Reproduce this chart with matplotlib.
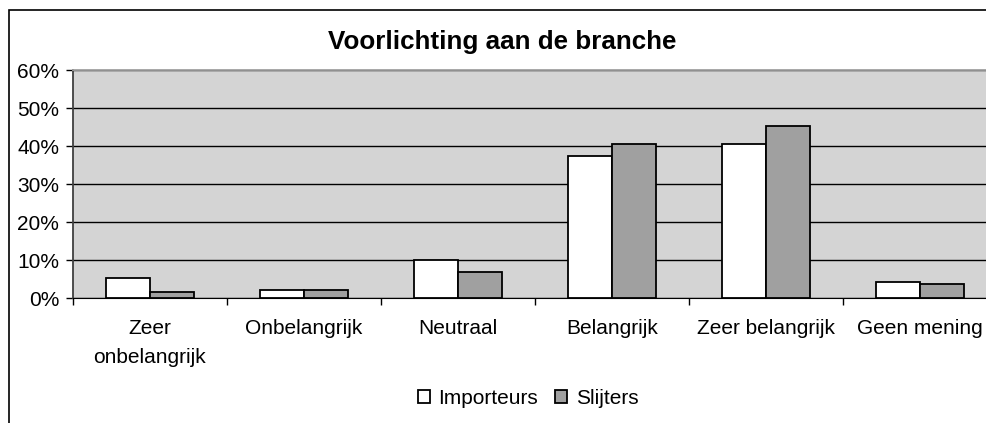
import matplotlib
matplotlib.use("Agg")
import matplotlib.pyplot as plt
from matplotlib.patches import Rectangle
from matplotlib.ticker import FixedLocator, PercentFormatter

plt.rcParams['font.family'] = ['Liberation Sans', 'DejaVu Sans']

categories = ["Zeer\nonbelangrijk", "Onbelangrijk", "Neutraal", "Belangrijk",
              "Zeer belangrijk", "Geen mening"]
importeurs = [5.3, 2.2, 10.0, 37.3, 40.4, 4.2]
slijters = [1.7, 2.2, 6.8, 40.4, 45.2, 3.6]

W, H = 987, 423
fig = plt.figure(figsize=(W / 100, H / 100), dpi=100)

# outer chart frame (clipped on right/bottom as in the original)
fig.patches.append(Rectangle((9 / W, -0.05), 1.1, 1 - 10 / H + 0.05,
                             transform=fig.transFigure, fill=False,
                             edgecolor='black', lw=1.2, clip_on=False))

ax = fig.add_axes([73 / W, (H - 298) / H, 924 / W, 228 / H])
ax.set_facecolor('#d4d4d4')

x = list(range(len(categories)))
bw = 0.286
ax.bar([i - bw / 2 for i in x], importeurs, bw, color='white',
       edgecolor='black', lw=1.3, label='Importeurs', zorder=3)
ax.bar([i + bw / 2 for i in x], slijters, bw, color='#a0a0a0',
       edgecolor='black', lw=1.3, label='Slijters', zorder=3)

ax.set_xlim(-0.5, len(categories) - 0.5)
ax.set_ylim(0, 60)
ax.set_yticks(range(0, 61, 10))
ax.yaxis.set_major_formatter(PercentFormatter(decimals=0))
ax.yaxis.grid(True, color='black', lw=1)
ax.set_axisbelow(True)

ax.set_xticks(x)
ax.set_xticklabels(categories, linespacing=1.65)
ax.xaxis.set_minor_locator(FixedLocator([i - 0.5 for i in range(len(categories) + 1)]))
ax.tick_params(axis='x', which='major', length=0, pad=15, labelsize=15)
ax.tick_params(axis='x', which='minor', length=5, width=1, direction='out')
ax.tick_params(axis='y', length=5, width=1, pad=5, labelsize=15)

ax.spines['left'].set_color('#404040')
ax.spines['left'].set_linewidth(1.3)
ax.spines['top'].set_color('#a0a0a0')
ax.spines['top'].set_linewidth(1.3)
ax.spines['right'].set_visible(False)
ax.spines['bottom'].set_color('black')

fig.text(502 / W, 1 - 42 / H, "Voorlichting aan de branche", ha='center',
         va='center', fontsize=18.7, fontweight='bold')

fig.legend(loc='center', bbox_to_anchor=(528 / W, 1 - 398 / H), ncol=2,
           frameon=False, fontsize=15, handlelength=0.6, handleheight=0.6,
           handletextpad=0.4, columnspacing=0.8)

fig.savefig('out.png', dpi=100)
